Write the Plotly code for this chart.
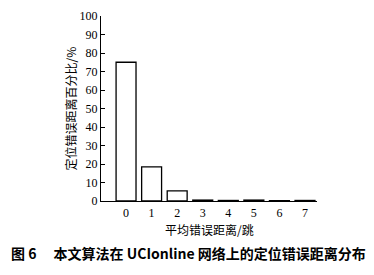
import plotly.graph_objects as go

categories = [0, 1, 2, 3, 4, 5, 6, 7]
percent = [75.0, 18.5, 5.5, 0.5, 0.3, 0.5, 0.2, 0.3]
y_ticks = [0, 10, 20, 30, 40, 50, 60, 70, 80, 90, 100]

serif = "Liberation Serif, Times New Roman, serif"
cjk = "Noto Sans CJK SC"

fig = go.Figure()
fig.add_trace(go.Bar(
    x=categories, y=percent, width=0.78,
    marker=dict(color="white", line=dict(color="black", width=1.3)),
))

fig.update_layout(
    width=374, height=275,
    margin=dict(l=101, r=57, t=9, b=74),
    plot_bgcolor="white", paper_bgcolor="white",
    showlegend=False,
    xaxis=dict(
        range=[-0.98, 7.47], tickvals=categories, ticks="",
        showline=True, linecolor="black", linewidth=1.3,
        showgrid=False, zeroline=False,
        tickfont=dict(family=serif, size=12, color="black"),
    ),
    yaxis=dict(
        range=[0, 100], tickvals=y_ticks, ticks="inside", ticklen=4,
        tickcolor="black", showline=True, linecolor="black", linewidth=1.3,
        showgrid=False, zeroline=False,
        tickfont=dict(family=serif, size=12, color="black"),
    ),
    annotations=[
        dict(text="定位错误距离百分比/%", xref="paper", yref="paper",
             x=(70 - 101) / 216, y=0.5, xanchor="center", yanchor="middle",
             textangle=-90, showarrow=False,
             font=dict(family=cjk, size=12, color="black")),
        dict(text="平均错误距离/跳", xref="paper", yref="paper",
             x=0.5, y=-0.095, xanchor="center", yanchor="top",
             showarrow=False,
             font=dict(family=cjk, size=12, color="black")),
        dict(text="<b>图 6　 本文算法在 UCIonline 网络上的定位错误距离分布</b>",
             xref="paper", yref="paper",
             x=(188 - 101) / 216, y=-0.215, xanchor="center", yanchor="top",
             showarrow=False,
             font=dict(family=cjk, size=14, color="black")),
    ],
)

fig.write_html("out.html")
